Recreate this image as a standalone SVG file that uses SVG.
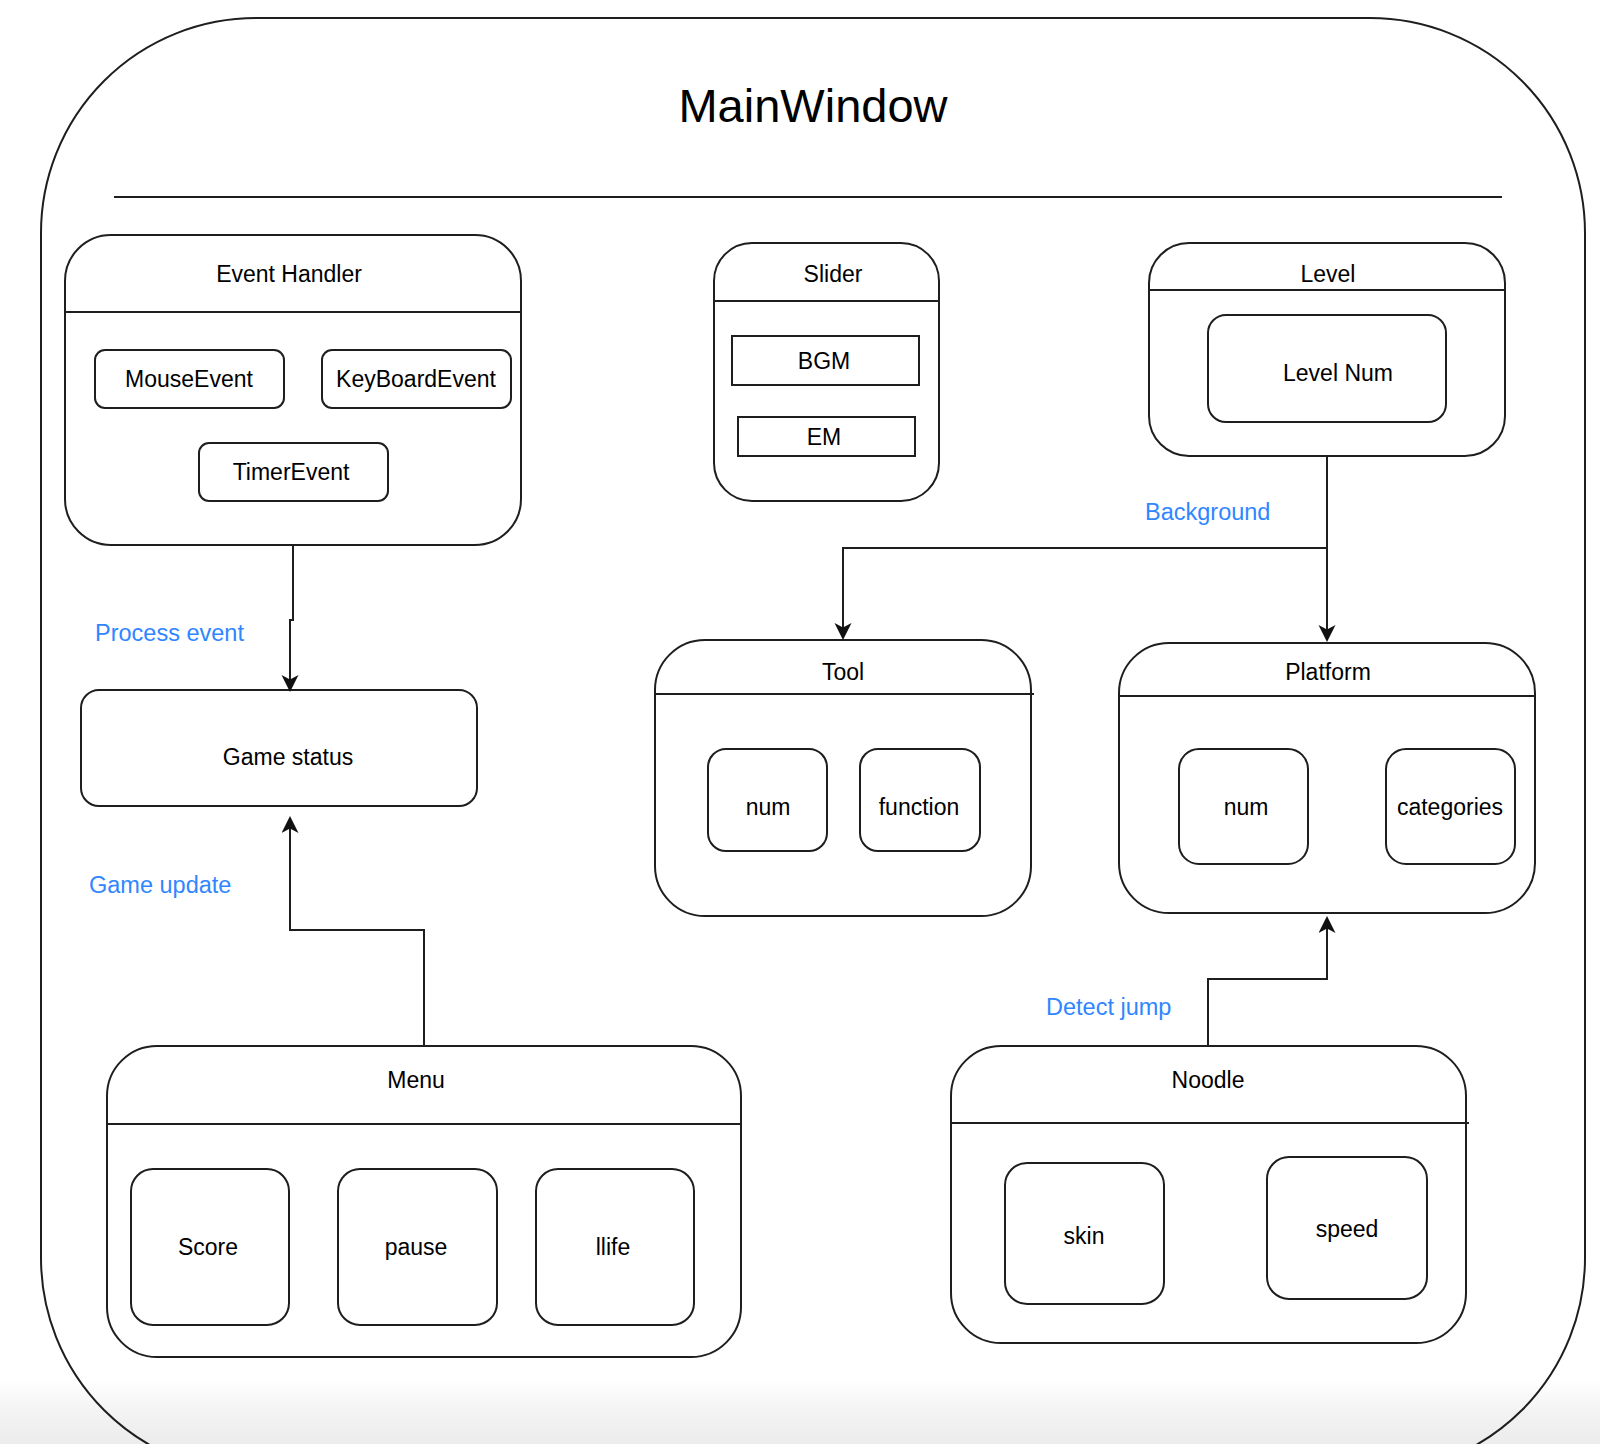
<svg xmlns="http://www.w3.org/2000/svg" width="1600" height="1444" viewBox="0 0 1600 1444">
<defs>
<linearGradient id="shade" x1="0" y1="0" x2="0" y2="1">
<stop offset="0" stop-color="#ffffff"/>
<stop offset="0.5" stop-color="#f3f3f3"/>
<stop offset="1" stop-color="#ececec"/>
</linearGradient>
<marker id="arrow" markerUnits="userSpaceOnUse" markerWidth="20" markerHeight="20" refX="13" refY="8.5" orient="auto">
<path d="M0,0 L17,8.5 L0,17 L4.5,8.5 Z" fill="#111"/>
</marker>
<style>
.box{fill:#fff;stroke:#1e1e1e;stroke-width:2}
.ln{fill:none;stroke:#1e1e1e;stroke-width:2}
.t{font-family:"Liberation Sans",Arial,sans-serif;font-size:23px;fill:#000;text-anchor:middle}
.lbl{font-family:"Liberation Sans",Arial,sans-serif;font-size:23.5px;fill:#2f86ff}
.conn{fill:none;stroke:#1e1e1e;stroke-width:2;marker-end:url(#arrow)}
</style>
</defs>
<rect x="0" y="0" width="1600" height="1444" fill="#fff"/>
<rect x="0" y="1380" width="1600" height="64" fill="url(#shade)"/>

<g id="mainwindow">
<rect x="41" y="18" width="1544" height="1455" rx="215" ry="215" class="ln"/>
<text x="813" y="122" style="font-family:'Liberation Sans',Arial,sans-serif;font-size:47px;fill:#000;text-anchor:middle">MainWindow</text>
<line x1="114" y1="197" x2="1502" y2="197" class="ln"/>
</g>

<g id="event-handler">
<rect x="65" y="235" width="456" height="310" rx="46" class="box"/>
<line x1="65" y1="312" x2="521" y2="312" class="ln"/>
<text x="289" y="282" class="t">Event Handler</text>
<rect x="95" y="350" width="189" height="58" rx="10" class="box"/>
<text x="189" y="387" class="t">MouseEvent</text>
<rect x="322" y="350" width="189" height="58" rx="10" class="box"/>
<text x="416" y="387" class="t">KeyBoardEvent</text>
<rect x="199" y="443" width="189" height="58" rx="10" class="box"/>
<text x="291" y="480" class="t">TimerEvent</text>
</g>

<g id="slider">
<rect x="714" y="243" width="225" height="258" rx="38" class="box"/>
<line x1="714" y1="301" x2="939" y2="301" class="ln"/>
<text x="833" y="282" class="t">Slider</text>
<rect x="732" y="336" width="187" height="49" class="box"/>
<text x="824" y="369" class="t">BGM</text>
<rect x="738" y="417" width="177" height="39" class="box"/>
<text x="824" y="445" class="t">EM</text>
</g>

<g id="level">
<rect x="1149" y="243" width="356" height="213" rx="40" class="box"/>
<line x1="1149" y1="290" x2="1505" y2="290" class="ln"/>
<text x="1328" y="282" class="t">Level</text>
<rect x="1208" y="315" width="238" height="107" rx="18" class="box"/>
<text x="1338" y="381" class="t">Level Num</text>
</g>

<g id="tool">
<rect x="655" y="640" width="376" height="276" rx="50" class="box"/>
<line x1="655" y1="694" x2="1034" y2="694" class="ln"/>
<text x="843" y="680" class="t">Tool</text>
<rect x="708" y="749" width="119" height="102" rx="18" class="box"/>
<text x="768" y="815" class="t">num</text>
<rect x="860" y="749" width="120" height="102" rx="18" class="box"/>
<text x="919" y="815" class="t">function</text>
</g>

<g id="platform">
<rect x="1119" y="643" width="416" height="270" rx="50" class="box"/>
<line x1="1119" y1="696" x2="1535" y2="696" class="ln"/>
<text x="1328" y="680" class="t">Platform</text>
<rect x="1179" y="749" width="129" height="115" rx="20" class="box"/>
<text x="1246" y="815" class="t">num</text>
<rect x="1386" y="749" width="129" height="115" rx="20" class="box"/>
<text x="1450" y="815" class="t">categories</text>
</g>

<g id="game-status">
<rect x="81" y="690" width="396" height="116" rx="18" class="box"/>
<text x="288" y="765" class="t">Game status</text>
</g>

<g id="menu">
<rect x="107" y="1046" width="634" height="311" rx="50" class="box"/>
<line x1="107" y1="1124" x2="741" y2="1124" class="ln"/>
<text x="416" y="1088" class="t">Menu</text>
<rect x="131" y="1169" width="158" height="156" rx="22" class="box"/>
<text x="208" y="1255" class="t">Score</text>
<rect x="338" y="1169" width="159" height="156" rx="22" class="box"/>
<text x="416" y="1255" class="t">pause</text>
<rect x="536" y="1169" width="158" height="156" rx="22" class="box"/>
<text x="613" y="1255" class="t">llife</text>
</g>

<g id="noodle">
<rect x="951" y="1046" width="515" height="297" rx="50" class="box"/>
<line x1="951" y1="1123" x2="1469" y2="1123" class="ln"/>
<text x="1208" y="1088" class="t">Noodle</text>
<rect x="1005" y="1163" width="159" height="141" rx="22" class="box"/>
<text x="1084" y="1244" class="t">skin</text>
<rect x="1267" y="1157" width="160" height="142" rx="22" class="box"/>
<text x="1347" y="1237" class="t">speed</text>
</g>

<g id="connectors">
<path d="M293,545 V620 H290 V688" class="conn"/>
<path d="M1327,456 V548 H843 V636" class="conn"/>
<path d="M1327,548 V638" class="conn"/>
<path d="M424,1046 V930 H290 V820" class="conn"/>
<path d="M1208,1046 V979 H1327 V920" class="conn"/>
<text x="95" y="641" class="lbl">Process event</text>
<text x="1145" y="520" class="lbl">Background</text>
<text x="89" y="893" class="lbl">Game update</text>
<text x="1046" y="1015" class="lbl">Detect jump</text>
</g>
</svg>
